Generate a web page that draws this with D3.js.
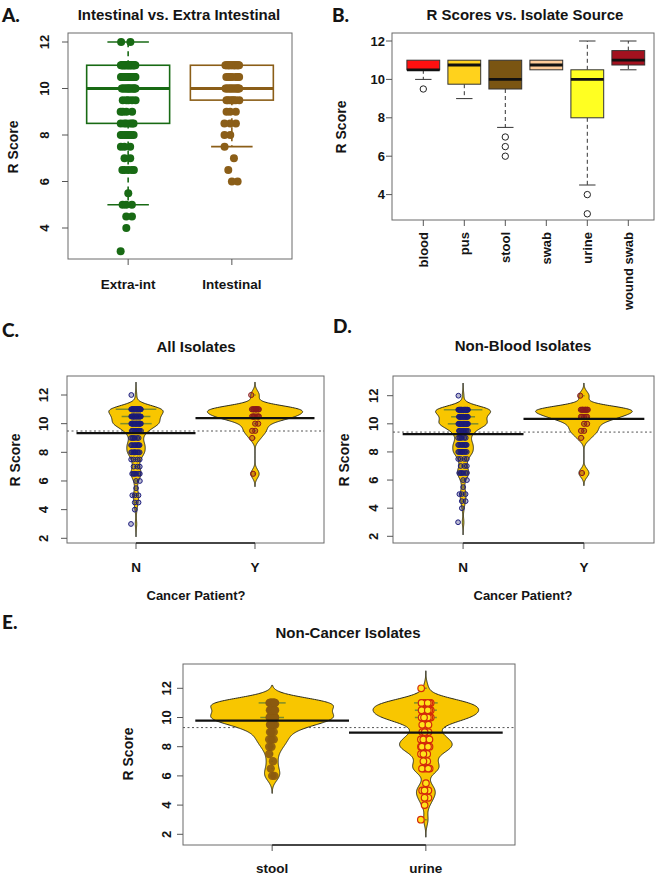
<!DOCTYPE html>
<html><head><meta charset="utf-8">
<script src="https://cdn.jsdelivr.net/npm/d3@7"></script>
<style>body{margin:0;background:#fff} svg{display:block}</style>
</head><body><svg id="c" width="660" height="875"></svg>
<script>
// ---------------- DATA ----------------
const scoreLevels = [3,4,4.5,5,5.5,6,6.5,7,7.5,8,8.5,9,9.5,10,10.5,11,12];
const sourceNames = ["blood","pus","stool","swab","urine","wound swab"];
const bloodCounts = [0,0,0,0,0,0,0,0,0,0,0,0,1,1,6,4,0];
const pusCounts   = [0,0,0,0,0,0,0,0,0,0,0,1,1,1,1,4,0];
const stoolCounts = [0,0,0,0,0,2,1,1,1,2,3,3,7,14,7,16,0];
const swabCounts  = [0,0,0,0,0,0,0,0,0,0,0,0,0,0,2,2,0];
const urineCounts = [1,1,2,3,1,0,5,2,3,8,6,3,3,13,13,14,1];
const woundCounts = [0,0,0,0,0,0,0,0,0,0,0,0,0,0,1,2,1];
const sourceColors = ["#ff1010","#ffd21c","#7a5512","#ffcc99","#ffff22","#a3111f"];

const sitesA = ["Extra-int","Intestinal"];
const sitesAColors = ["#186a14","#8b5e18"];

const cancerLabels = ["N","Y"];
const allIsolatesN = [1,1,2,3,1,2,6,3,4,9,9,6,11,24,22,31,1];
const allIsolatesY = [0,0,0,0,0,0,1,0,0,0,0,1,2,2,7,9,1];
const nonBloodN    = [1,1,2,3,1,2,6,3,4,9,9,6,10,23,18,29,1];
const nonBloodY    = [0,0,0,0,0,0,1,0,0,0,0,1,2,2,5,8,1];
const nonCancerSources = ["stool","urine"];

const yTicksBox = [4,6,8,10,12];
const yTicksBean = [2,4,6,8,10,12];

// ---------------- HELPERS ----------------
const svg = d3.select("#c");
const FONT = '"Liberation Sans", Arial, sans-serif';
function txt(g, x, y, s, o = {}) {
  const t = g.append("text").attr("x", x).attr("y", y).text(s)
    .attr("font-family", o.font || FONT).attr("font-weight", o.weight || "bold")
    .attr("font-size", o.size || 13).attr("fill", o.fill || "#141414")
    .attr("text-anchor", o.anchor || "middle").attr("dy", o.dy || "0.35em");
  if (o.rotate) t.attr("transform", `rotate(${o.rotate},${x},${y})`);
  return t;
}
function expand(counts) {
  const v = [];
  counts.forEach((c, i) => { for (let k = 0; k < c; k++) v.push(scoreLevels[i]); });
  return v;
}
function fivenum(x) {
  const n = x.length, n4 = Math.floor((n + 3) / 2) / 2;
  return [1, n4, (n + 1) / 2, n + 1 - n4, n].map(d => 0.5 * (x[Math.floor(d) - 1] + x[Math.ceil(d) - 1]));
}
function boxStats(vals) {
  const f = fivenum(vals), iqr = f[3] - f[1];
  const lo = f[1] - 1.5 * iqr, hi = f[3] + 1.5 * iqr;
  const inside = vals.filter(v => v >= lo && v <= hi);
  return { q1: f[1], med: f[2], q3: f[3], wlo: d3.min(inside), whi: d3.max(inside),
           out: vals.filter(v => v < lo || v > hi) };
}
function rScale(n, x0, x1) {
  const e = 0.04 * n;
  return d3.scaleLinear().domain([0.5 - e, n + 0.5 + e]).range([x0, x1]);
}
function jit(k, li) { return ((k * 0.6180339887 + li * 0.377) % 1) * 2 - 1; }
function frame(g, x0, y0, x1, y1) {
  g.append("rect").attr("x", x0).attr("y", y0).attr("width", x1 - x0).attr("height", y1 - y0)
    .attr("fill", "none").attr("stroke", "#6a6a6a").attr("stroke-width", 1);
}
function yAxis(g, y, ticks, x0, lx, rotated) {
  ticks.forEach(t => {
    g.append("line").attr("x1", x0).attr("x2", x0 - 6).attr("y1", y(t)).attr("y2", y(t))
      .attr("stroke", "#555");
    if (rotated) txt(g, lx, y(t), t, { rotate: -90, size: 13 });
    else txt(g, lx, y(t), t, { anchor: "end", size: 13 });
  });
}
function xTicks(g, xs, yb, dark) {
  xs.forEach(xv => g.append("line").attr("x1", xv).attr("x2", xv).attr("y1", yb).attr("y2", yb + 6).attr("stroke", "#555"));
  if (dark) g.append("line").attr("x1", xs[0]).attr("x2", xs[xs.length - 1]).attr("y1", yb).attr("y2", yb)
    .attr("stroke", "#222").attr("stroke-width", 1.3);
}
function panelLetter(x, y, s) {
  txt(svg, x, y, s, { anchor: "start", size: 19, font: 'Lato, "Open Sans", sans-serif', weight: "900" });
}

// ---------------- PANEL A ----------------
(function () {
  const g = svg.append("g");
  const x0 = 68, x1 = 292, y0 = 33, y1 = 259;
  const x = rScale(2, x0, x1);
  const y = d3.scaleLinear().domain([4, 12]).range([228, 42]);
  const extraIntCounts = scoreLevels.map((_, i) => bloodCounts[i] + pusCounts[i] + swabCounts[i] + urineCounts[i] + woundCounts[i]);
  const groups = [extraIntCounts, stoolCounts];
  frame(g, x0, y0, x1, y1);
  yAxis(g, y, yTicksBox, x0, 44.5, true);
  xTicks(g, [x(1), x(2)], y1, false);
  groups.forEach((counts, gi) => {
    const cx = x(gi + 1), col = sitesAColors[gi];
    const bw = (x(1.4) - x(0.6)), hb = bw / 2, st = bw / 4;
    const s = boxStats(expand(counts));
    g.append("rect").attr("x", cx - hb).attr("y", y(s.q3)).attr("width", bw).attr("height", y(s.q1) - y(s.q3))
      .attr("fill", "none").attr("stroke", col).attr("stroke-width", 1.6);
    [[s.q1, s.wlo], [s.q3, s.whi]].forEach(([a, b]) => {
      if (a !== b) {
        g.append("line").attr("x1", cx).attr("x2", cx).attr("y1", y(a)).attr("y2", y(b))
          .attr("stroke", col).attr("stroke-width", 1.6).attr("stroke-dasharray", "5,4");
        g.append("line").attr("x1", cx - st).attr("x2", cx + st).attr("y1", y(b)).attr("y2", y(b))
          .attr("stroke", col).attr("stroke-width", 1.6);
      }
    });
    g.append("line").attr("x1", cx - hb).attr("x2", cx + hb).attr("y1", y(s.med)).attr("y2", y(s.med))
      .attr("stroke", col).attr("stroke-width", 3);
    counts.forEach((c, li) => {
      for (let k = 0; k < c; k++) {
        g.append("circle").attr("cx", cx + jit(k, li) * 7.5).attr("cy", y(scoreLevels[li])).attr("r", 4)
          .attr("fill", col);
      }
    });
  });
  sitesA.forEach((s, i) => txt(g, x(i + 1), 284, s, { size: 13.5 }));
  txt(g, 13, 147, "R Score", { rotate: -90, size: 14 });
  txt(g, 179, 15, "Intestinal vs. Extra Intestinal", { size: 15 });
  panelLetter(2, 15, "A.");
})();

// ---------------- PANEL B ----------------
(function () {
  const g = svg.append("g");
  const x0 = 392, x1 = 654, y0 = 33, y1 = 220;
  const x = d3.scaleLinear().domain([1, 6]).range([423.3, 628.3]);
  const y = d3.scaleLinear().domain([4, 12]).range([194.6, 41]);
  const groups = [bloodCounts, pusCounts, stoolCounts, swabCounts, urineCounts, woundCounts];
  frame(g, x0, y0, x1, y1);
  yAxis(g, y, yTicksBox, x0, 385, false);
  xTicks(g, groups.map((_, i) => x(i + 1)), y1, false);
  groups.forEach((counts, gi) => {
    const cx = x(gi + 1), unit = x(2) - x(1);
    const bw = 0.8 * unit, hb = bw / 2, st = bw / 4;
    const s = boxStats(expand(counts));
    [[s.q1, s.wlo], [s.q3, s.whi]].forEach(([a, b]) => {
      if (a !== b) {
        g.append("line").attr("x1", cx).attr("x2", cx).attr("y1", y(a)).attr("y2", y(b))
          .attr("stroke", "#333").attr("stroke-width", 1).attr("stroke-dasharray", "4,3");
        g.append("line").attr("x1", cx - st).attr("x2", cx + st).attr("y1", y(b)).attr("y2", y(b))
          .attr("stroke", "#333").attr("stroke-width", 1);
      }
    });
    g.append("rect").attr("x", cx - hb).attr("y", y(s.q3)).attr("width", bw).attr("height", y(s.q1) - y(s.q3))
      .attr("fill", sourceColors[gi]).attr("stroke", "#333").attr("stroke-width", 1);
    g.append("line").attr("x1", cx - hb).attr("x2", cx + hb).attr("y1", y(s.med)).attr("y2", y(s.med))
      .attr("stroke", "#111").attr("stroke-width", 2.8);
    Array.from(new Set(s.out)).forEach(v => g.append("circle").attr("cx", cx).attr("cy", y(v)).attr("r", 3.2)
      .attr("fill", "none").attr("stroke", "#222").attr("stroke-width", 1));
    txt(g, cx, 232, sourceNames[gi], { rotate: -90, anchor: "end", size: 13 });
  });
  txt(g, 341, 127, "R Score", { rotate: -90, size: 14 });
  txt(g, 525, 15, "R Scores vs. Isolate Source", { size: 15 });
  panelLetter(332, 15, "B.");
})();

// ---------------- BEAN PANELS ----------------
function kde(vals, bw, lo, hi, N) {
  const n = vals.length, pts = [];
  for (let i = 0; i <= N; i++) {
    const v = lo + (hi - lo) * i / N;
    let s = 0;
    for (const xv of vals) { const z = (v - xv) / bw; s += Math.exp(-0.5 * z * z); }
    pts.push([v, s / (n * bw * Math.sqrt(2 * Math.PI))]);
  }
  return pts;
}
function densAt(vals, bw, v) {
  let s = 0; for (const xv of vals) { const z = (v - xv) / bw; s += Math.exp(-0.5 * z * z); }
  return s / (vals.length * bw * Math.sqrt(2 * Math.PI));
}
function beanPanel(p) {
  const g = svg.append("g");
  const [x0, y0, x1, y1] = p.frame;
  const n = p.groups.length;
  const x = rScale(n, x0, x1);
  const y = d3.scaleLinear().domain([2, 12]).range([p.y2, p.y12]);
  const spacing = x(2) - x(1);
  const dens = p.groups.map(gr => {
    const vals = expand(gr.counts);
    const lo = d3.min(vals) - 3 * p.bw, hi = d3.max(vals) + 3 * p.bw;
    return { vals, pts: kde(vals, p.bw, lo, hi, 300) };
  });
  const gmax = d3.max(dens, d => d3.max(d.pts, q => q[1]));
  const w = d3.scaleLinear().domain([0, gmax]).range([0, 0.4 * spacing]);
  frame(g, x0, y0, x1, y1);
  yAxis(g, y, yTicksBean, x0, p.tickX, true);
  xTicks(g, dens.map((_, i) => x(i + 1)), y1, true);
  const allVals = dens.flatMap(d => d.vals);
  g.append("line").attr("x1", x0).attr("x2", x1).attr("y1", y(d3.mean(allVals))).attr("y2", y(d3.mean(allVals)))
    .attr("stroke", "#555").attr("stroke-width", 1).attr("stroke-dasharray", "2,2.5");
  dens.forEach((d, i) => {
    const cx = x(i + 1), gr = p.groups[i];
    g.append("path").datum(d.pts)
      .attr("d", d3.area().y(q => y(q[0])).x0(q => cx - w(q[1])).x1(q => cx + w(q[1])))
      .attr("fill", "#f8c600").attr("stroke", "#2a2a1a").attr("stroke-width", 1);
    gr.counts.forEach((c, li) => {
      if (!c) return;
      const v = scoreLevels[li];
      const L = Math.min(c * 0.011 * spacing, 1.8 * w(densAt(d.vals, p.bw, v)));
      g.append("line").attr("x1", cx - L / 2).attr("x2", cx + L / 2).attr("y1", y(v)).attr("y2", y(v))
        .attr("stroke", "#7d8c2a").attr("stroke-width", 1.5);
    });
    gr.counts.forEach((c, li) => {
      for (let k = 0; k < c; k++) {
        const pt = g.append("circle").attr("cx", cx + jit(k, li) * gr.jitter).attr("cy", y(scoreLevels[li]))
          .attr("r", gr.r).attr("fill", gr.fill).attr("stroke", gr.stroke).attr("stroke-width", gr.sw);
        if (gr.fo !== undefined) pt.attr("fill-opacity", gr.fo);
      }
    });
    const m = d3.mean(d.vals);
    g.append("line").attr("x1", cx - spacing / 2).attr("x2", cx + spacing / 2).attr("y1", y(m)).attr("y2", y(m))
      .attr("stroke", "#111").attr("stroke-width", 2.2);
    txt(g, cx, p.labY, p.labels[i], { size: 13.5 });
  });
  txt(g, p.rsX, p.rsY, "R Score", { rotate: -90, size: 14 });
  txt(g, p.titleX, p.titleY, p.title, { size: 15 });
  if (p.xTitle) txt(g, p.xTitleX, p.xTitleY, p.xTitle, { size: 13 });
}
const navyPts = { jitter: 5, r: 2.4, fill: "#1c1c6c", fo: 0.3, stroke: "#1c1c7c", sw: 1 };
const redPts = { jitter: 4, r: 2.6, fill: "#8b1a1a", fo: 0.35, stroke: "#8b1a1a", sw: 1 };

beanPanel({
  frame: [67, 376, 324, 543], y2: 538.3, y12: 395, bw: 0.3, tickX: 43,
  groups: [Object.assign({ counts: allIsolatesN }, navyPts), Object.assign({ counts: allIsolatesY }, redPts)],
  labels: cancerLabels, labY: 567, rsX: 15, rsY: 460,
  title: "All Isolates", titleX: 196, titleY: 347,
  xTitle: "Cancer Patient?", xTitleX: 196, xTitleY: 595
});
panelLetter(2, 330, "C.");

beanPanel({
  frame: [393, 376, 654, 543], y2: 536.3, y12: 395.7, bw: 0.3, tickX: 373.5,
  groups: [Object.assign({ counts: nonBloodN }, navyPts), Object.assign({ counts: nonBloodY }, redPts)],
  labels: cancerLabels, labY: 567, rsX: 344, rsY: 460,
  title: "Non-Blood Isolates", titleX: 523, titleY: 346,
  xTitle: "Cancer Patient?", xTitleX: 523, xTitleY: 595
});
panelLetter(333, 326, "D.");

beanPanel({
  frame: [183, 664, 515, 845], y2: 834.3, y12: 688.3, bw: 0.4, tickX: 166.5,
  groups: [
    { counts: stoolCounts, jitter: 3, r: 4.2, fill: "#8b5a10", stroke: "none", sw: 0, fo: 0.9 },
    { counts: urineCounts, jitter: 5, r: 3.3, fill: "#ffe21a", stroke: "#d42a0a", sw: 1.2 }
  ],
  labels: nonCancerSources, labY: 868, rsX: 128, rsY: 754,
  title: "Non-Cancer Isolates", titleX: 348, titleY: 633
});
panelLetter(2, 622, "E.");
</script></body></html>
